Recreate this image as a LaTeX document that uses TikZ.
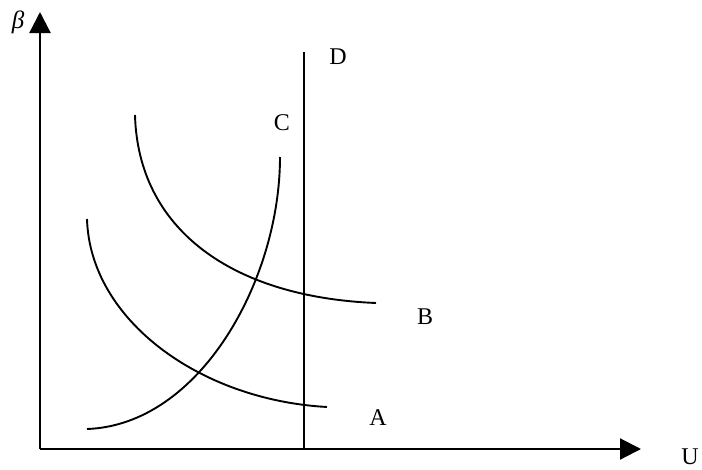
\documentclass[tikz,border=0pt]{standalone}
\usepackage{fontspec}
\setmainfont{Liberation Serif}
\usetikzlibrary{arrows.meta}
\begin{document}
\begin{tikzpicture}[x=1pt,y=-1pt,
  axis/.style={line width=2.2pt,-{Triangle[length=21pt,width=21pt]}},
  curve/.style={line width=1.9pt},
  vline/.style={line width=2.1pt},
  lbl/.style={inner sep=0pt,font=\fontsize{24}{27}\selectfont}]
\useasboundingbox (0,0) rectangle (702,469);
\coordinate (O) at (40,449);
\coordinate (ytip) at (40,12);
\coordinate (xtip) at (641,449);
\coordinate (dtop) at (304,52);
\coordinate (dbot) at (304,449);
\draw[axis] (O) -- (ytip);
\draw[axis] (O) -- (xtip);
\draw[vline] (dtop) -- (dbot);
% curve A
\coordinate (a0) at (87,219);
\coordinate (a1) at (327,407);
\draw[curve] (a0) .. controls (90,320) and (200,400) .. (a1);
% curve B
\coordinate (b0) at (135,115);
\coordinate (b1) at (376,303);
\draw[curve] (b0) .. controls (138,228) and (230,297) .. (b1);
% curve C
\coordinate (c0) at (87,429);
\coordinate (c1) at (280,157);
\draw[curve] (c0) .. controls (200,425) and (280,280) .. (c1);
% labels
\node[lbl,font=\fontsize{25}{28}\selectfont\itshape] (beta) at (18,22) {β};
\node[lbl] (U) at (690,457) {U};
\node[lbl] (D) at (338,57) {D};
\node[lbl] (C) at (282,123) {C};
\node[lbl] (B) at (425,317) {B};
\node[lbl] (A) at (378,418) {A};
\end{tikzpicture}
\end{document}
